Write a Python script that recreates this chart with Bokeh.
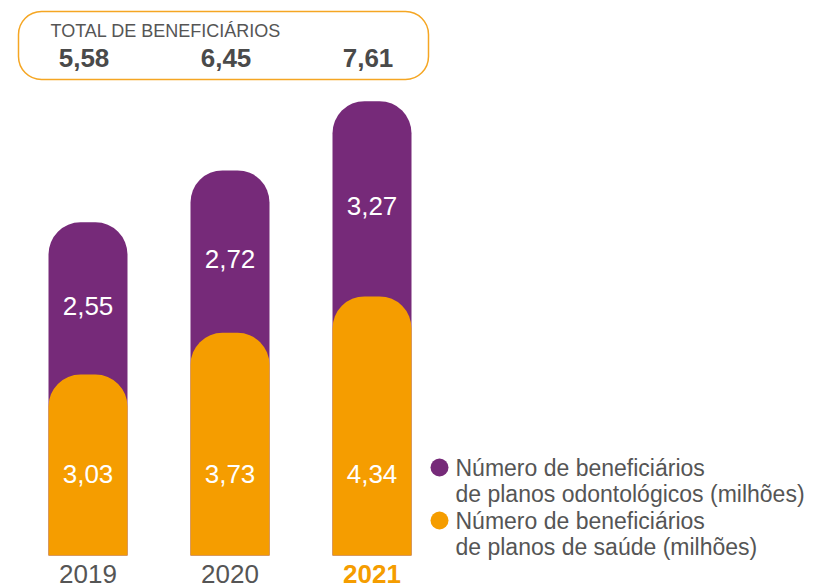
from bokeh.plotting import figure
from bokeh.models import Range1d
from bokeh.core.properties import value
from bokeh.embed import file_html
from bokeh.resources import INLINE

# ---- data ----
years = ["2019", "2020", "2021"]
saude = [3.03, 3.73, 4.34]          # planos de saúde (milhões)
odonto = [2.55, 2.72, 3.27]         # planos odontológicos (milhões)
totais = ["5,58", "6,45", "7,61"]
saude_lbl = ["3,03", "3,73", "4,34"]
odonto_lbl = ["2,55", "2,72", "3,27"]
legend_lines = ["Número de beneficiários", "de planos odontológicos (milhões)",
                "Número de beneficiários", "de planos de saúde (milhões)"]

PURPLE = "#762A79"
ORANGE = "#F59D00"
GRAY = "#555555"
FONT = value("Liberation Sans")

W, H = 820, 587
SX, SY = 142.0, 59.7
x0 = -87.5 / SX
y0 = -(H - 555) / SY

def ix(px):
    return x0 + px / SX

def iy(py):
    return y0 + (H - py) / SY

p = figure(width=W, height=H, output_backend="svg", toolbar_location=None,
           x_range=Range1d(x0, x0 + W / SX), y_range=Range1d(y0, y0 + H / SY),
           min_border=0, outline_line_color=None)
p.axis.visible = False
p.grid.visible = False
p.background_fill_color = "white"

xs = list(range(len(years)))
tot = [a + b for a, b in zip(saude, odonto)]
bw = 79.0 / SX

p.vbar(x=xs, top=tot, bottom=0, width=bw, fill_color=PURPLE, line_color=None,
       border_radius=(32, 32, 0, 0))
p.vbar(x=xs, top=saude, bottom=0, width=bw, fill_color=ORANGE, line_color=None,
       border_radius=(32, 32, 0, 0))

# value labels
p.text(x=xs, y=[iy(473)] * 3, text=saude_lbl, text_color="white", text_font=FONT,
       text_font_size="26px", text_align="center", text_baseline="middle")
od_y = [s + o / 2 - 0.12 for s, o in zip(saude, odonto)]
p.text(x=xs, y=od_y, text=odonto_lbl, text_color="white", text_font=FONT,
       text_font_size="26px", text_align="center", text_baseline="middle")

# year labels
p.text(x=xs[:2], y=[iy(573)] * 2, text=years[:2], text_color=GRAY, text_font=FONT,
       text_font_size="26px", text_align="center", text_baseline="middle")
p.text(x=[xs[2]], y=[iy(573)], text=[years[2]], text_color=ORANGE, text_font=FONT,
       text_font_size="26px", text_font_style="bold", text_align="center",
       text_baseline="middle")

# total box
p.quad(left=[ix(18)], right=[ix(428)], top=[iy(11)], bottom=[iy(79)],
       fill_color=None, line_color="#F5A623", line_width=1.5,
       border_radius=23)
p.text(x=[ix(50)], y=[iy(30)], text=["TOTAL DE BENEFICIÁRIOS"], text_color=GRAY,
       text_font=FONT, text_font_size="18px", text_align="left", text_baseline="middle")
p.text(x=[x - 4 / SX for x in xs], y=[iy(57)] * 3, text=totais, text_color="#4a4a4a",
       text_font=FONT, text_font_size="26px", text_font_style="bold",
       text_align="center", text_baseline="middle")

# legend
p.scatter(x=[ix(439)] * 2, y=[iy(467), iy(520)], size=18, marker="circle",
          fill_color=[PURPLE, ORANGE], line_color=None)
p.text(x=[ix(455)] * 4, y=[iy(467), iy(493), iy(520), iy(546)], text=legend_lines,
       text_color=GRAY, text_font=FONT, text_font_size="23px",
       text_align="left", text_baseline="middle")

open("out.html", "w").write(file_html(p, INLINE))
